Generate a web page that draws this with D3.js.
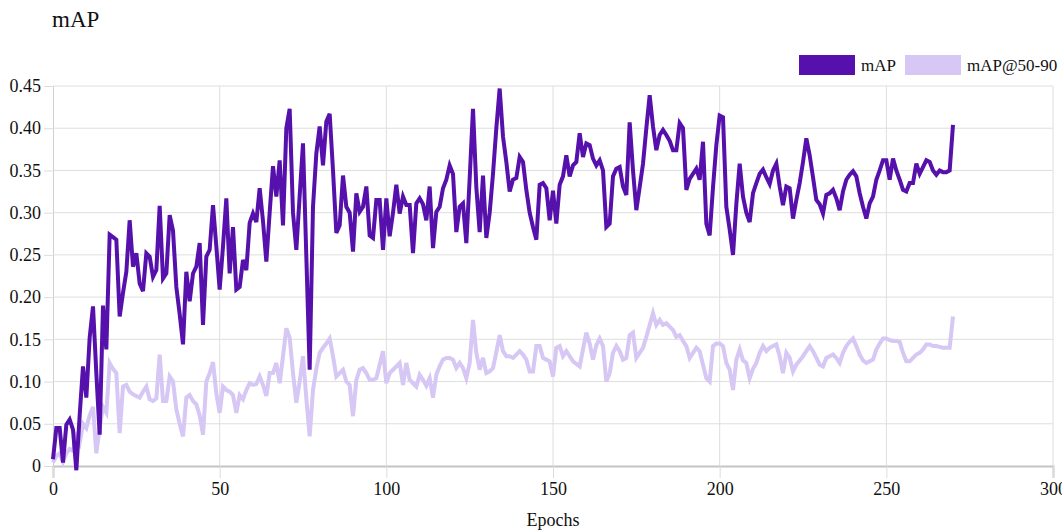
<!DOCTYPE html>
<html>
<head>
<meta charset="utf-8">
<script src="https://cdn.jsdelivr.net/npm/d3@7"></script>
<style>
html,body{margin:0;padding:0;background:#fff;}
svg{display:block;}
svg text{font-family:"Liberation Serif","Times New Roman",serif !important;}
</style>
</head>
<body>
<svg id="chart" width="1062" height="531"></svg>
<script>
const title = "mAP";
const xLabel = "Epochs";
const seriesNames = ["mAP", "mAP@50-90"];
const xTicks = [0, 50, 100, 150, 200, 250, 300];
const yTicks = [0, 0.05, 0.10, 0.15, 0.20, 0.25, 0.30, 0.35, 0.40, 0.45];
const yTickLabels = ["0", "0.05", "0.10", "0.15", "0.20", "0.25", "0.30", "0.35", "0.40", "0.45"];

const mAP = [
0.008,0.045,0.045,0.004,0.049,0.055,0.043,-0.005,0.060,0.118,
0.081,0.152,0.189,0.110,0.037,0.190,0.138,0.274,0.271,0.268,
0.177,0.205,0.230,0.291,0.236,0.252,0.216,0.207,0.252,0.248,
0.224,0.232,0.308,0.222,0.228,0.297,0.279,0.212,0.180,0.144,
0.230,0.195,0.228,0.236,0.264,0.167,0.248,0.256,0.309,0.260,
0.209,0.260,0.317,0.228,0.283,0.209,0.212,0.244,0.232,0.288,
0.299,0.289,0.329,0.290,0.242,0.300,0.355,0.319,0.362,0.285,
0.400,0.423,0.300,0.256,0.320,0.382,0.248,0.114,0.307,0.370,
0.402,0.356,0.408,0.417,0.350,0.276,0.285,0.344,0.307,0.300,
0.254,0.323,0.301,0.307,0.331,0.273,0.270,0.315,0.315,0.256,
0.317,0.272,0.300,0.333,0.299,0.319,0.309,0.309,0.252,0.311,
0.317,0.310,0.291,0.331,0.258,0.301,0.307,0.329,0.339,0.356,
0.346,0.277,0.307,0.311,0.264,0.340,0.423,0.330,0.277,0.344,
0.270,0.300,0.346,0.400,0.447,0.390,0.360,0.325,0.339,0.341,
0.366,0.360,0.327,0.300,0.283,0.268,0.333,0.335,0.329,0.291,
0.326,0.287,0.333,0.343,0.368,0.343,0.356,0.360,0.394,0.366,
0.382,0.380,0.364,0.356,0.362,0.350,0.283,0.287,0.343,0.352,
0.354,0.331,0.321,0.407,0.350,0.303,0.330,0.358,0.400,0.439,
0.402,0.374,0.392,0.398,0.392,0.385,0.374,0.374,0.406,0.400,
0.327,0.340,0.346,0.352,0.339,0.384,0.287,0.273,0.330,0.380,
0.415,0.413,0.307,0.280,0.250,0.310,0.358,0.319,0.300,0.289,
0.323,0.335,0.346,0.351,0.342,0.334,0.350,0.358,0.331,0.309,
0.331,0.329,0.293,0.315,0.335,0.360,0.388,0.368,0.342,0.315,
0.310,0.299,0.321,0.323,0.327,0.317,0.303,0.325,0.339,0.345,
0.349,0.343,0.323,0.307,0.293,0.311,0.319,0.339,0.350,0.362,
0.362,0.339,0.364,0.350,0.339,0.327,0.325,0.335,0.335,0.358,
0.346,0.354,0.362,0.360,0.350,0.345,0.350,0.348,0.348,0.350,
0.404
];

const mAP5090 = [
0.004,0.012,0.015,0.005,0.015,0.020,0.018,0.035,0.027,0.050,
0.045,0.060,0.070,0.015,0.045,0.070,0.063,0.122,0.115,0.110,
0.039,0.094,0.096,0.088,0.085,0.083,0.081,0.088,0.094,0.079,
0.077,0.080,0.132,0.077,0.077,0.106,0.100,0.067,0.050,0.035,
0.081,0.084,0.077,0.073,0.060,0.037,0.100,0.110,0.123,0.086,
0.063,0.094,0.090,0.088,0.084,0.063,0.084,0.079,0.090,0.098,
0.096,0.097,0.106,0.096,0.083,0.110,0.110,0.122,0.098,0.130,
0.163,0.152,0.110,0.075,0.100,0.130,0.080,0.035,0.090,0.115,
0.134,0.140,0.145,0.151,0.130,0.106,0.110,0.114,0.100,0.096,
0.059,0.102,0.114,0.116,0.110,0.102,0.102,0.104,0.120,0.136,
0.098,0.110,0.114,0.118,0.122,0.096,0.122,0.102,0.098,0.094,
0.108,0.102,0.095,0.104,0.081,0.108,0.118,0.126,0.128,0.128,
0.126,0.116,0.122,0.116,0.104,0.122,0.173,0.134,0.114,0.128,
0.110,0.112,0.116,0.135,0.155,0.136,0.130,0.130,0.128,0.132,
0.136,0.132,0.126,0.112,0.112,0.142,0.142,0.128,0.126,0.124,
0.106,0.140,0.142,0.130,0.136,0.130,0.124,0.121,0.118,0.138,
0.158,0.145,0.126,0.143,0.151,0.142,0.100,0.110,0.134,0.142,
0.136,0.126,0.128,0.155,0.158,0.128,0.134,0.140,0.153,0.167,
0.181,0.167,0.173,0.167,0.169,0.165,0.161,0.153,0.155,0.148,
0.142,0.128,0.134,0.140,0.136,0.120,0.104,0.100,0.142,0.145,
0.145,0.142,0.122,0.114,0.090,0.126,0.138,0.125,0.122,0.104,
0.115,0.122,0.134,0.142,0.136,0.140,0.142,0.144,0.130,0.110,
0.134,0.128,0.112,0.120,0.125,0.130,0.136,0.142,0.136,0.128,
0.120,0.118,0.128,0.130,0.132,0.128,0.122,0.134,0.142,0.147,
0.151,0.142,0.132,0.125,0.122,0.124,0.126,0.138,0.145,0.151,
0.151,0.149,0.148,0.148,0.147,0.134,0.124,0.124,0.128,0.132,
0.134,0.138,0.144,0.144,0.142,0.142,0.141,0.140,0.140,0.140,
0.177
];

const epochs = mAP.map((_, i) => i);

const colors = ["#5610ab", "#d6c7f4"];

const svg = d3.select("#chart");
const m = {left: 53, right: 9, top: 86, bottom: 65};
const W = 1062, H = 531;
const x = d3.scaleLinear().domain([0, 300]).range([m.left, W - m.right]);
const y = d3.scaleLinear().domain([0, 0.45]).range([H - m.bottom, m.top]);

// y axis with ticks
const yAxis = d3.axisLeft(y).tickValues(yTicks)
  .tickFormat((d, i) => yTickLabels[i])
  .tickSize(9).tickPadding(3);
const gy = svg.append("g").attr("transform", `translate(${m.left},0)`).call(yAxis);
gy.select(".domain").attr("stroke", "#cfcfcf");
gy.selectAll(".tick line").attr("stroke", "#dcdcdc");
gy.selectAll(".tick text").attr("font-size", 18).attr("fill", "#111");

// horizontal grid
svg.append("g").selectAll("line").data(yTicks.filter(d => d > 0)).join("line")
  .attr("x1", m.left).attr("x2", W - m.right)
  .attr("y1", d => y(d)).attr("y2", d => y(d))
  .attr("stroke", "#dedede").attr("stroke-width", 1);

// vertical grid
svg.append("g").selectAll("line").data(xTicks.filter(d => d > 0)).join("line")
  .attr("x1", d => x(d)).attr("x2", d => x(d))
  .attr("y1", m.top).attr("y2", y(0))
  .attr("stroke", "#dedede").attr("stroke-width", 1);

// x axis
const xAxis = d3.axisBottom(x).tickValues(xTicks).tickFormat(d3.format("d"))
  .tickSize(12).tickPadding(4);
const gx = svg.append("g").attr("transform", `translate(0,${y(0)})`).call(xAxis);
gx.select(".domain").attr("stroke", "#c4c4c4").attr("stroke-width", 2);
gx.selectAll(".tick line").attr("stroke", "#dcdcdc");
gx.selectAll(".tick text").attr("font-size", 18).attr("fill", "#111");

// lines
const line = d3.line().x((d, i) => x(epochs[i])).y(d => y(d)).curve(d3.curveLinear);
svg.append("path").datum(mAP5090).attr("d", line)
  .attr("fill", "none").attr("stroke", colors[1]).attr("stroke-width", 4)
  .attr("stroke-linejoin", "miter");
svg.append("path").datum(mAP).attr("d", line)
  .attr("fill", "none").attr("stroke", colors[0]).attr("stroke-width", 4)
  .attr("stroke-linejoin", "miter");

// title
svg.append("text").attr("x", 52).attr("y", 27).text(title)
  .attr("font-size", 23).attr("fill", "#111");

// x label
svg.append("text").attr("x", (x(0) + x(300)) / 2).attr("y", 526)
  .attr("text-anchor", "middle").text(xLabel)
  .attr("font-size", 18).attr("fill", "#111");

// legend
const legend = [
  {name: seriesNames[0], color: colors[0], rx: 799, tx: 861},
  {name: seriesNames[1], color: colors[1], rx: 905, tx: 967}
];
const lg = svg.append("g");
lg.selectAll("rect").data(legend).join("rect")
  .attr("x", d => d.rx).attr("y", 55).attr("width", 56).attr("height", 20)
  .attr("fill", d => d.color);
lg.selectAll("text").data(legend).join("text")
  .attr("x", d => d.tx).attr("y", 71).text(d => d.name)
  .attr("font-size", 17).attr("fill", "#111");
</script>
</body>
</html>
